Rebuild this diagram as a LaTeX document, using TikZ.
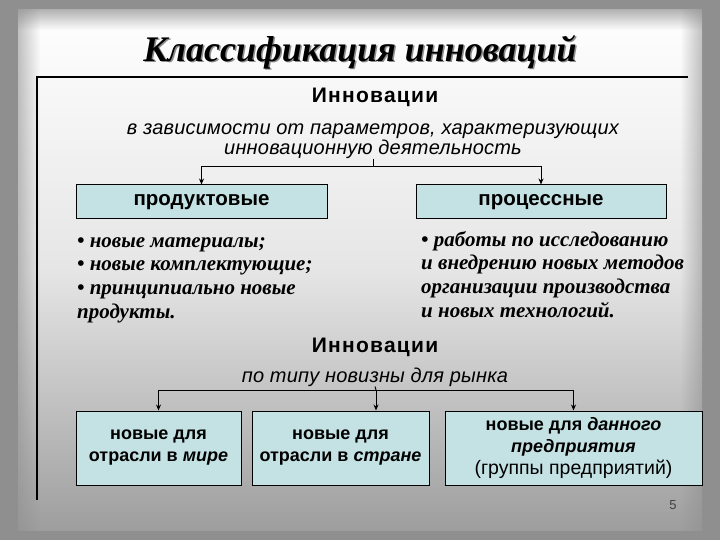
\documentclass[tikz,border=0pt]{standalone}
\usepackage{fontspec}
\setmainfont{Liberation Serif}
\setsansfont{Liberation Sans}
\usetikzlibrary{arrows.meta,fadings}
\definecolor{boxfill}{RGB}{196,226,228}
\tikzset{
  catbox/.style={draw=black, line width=1pt, fill=boxfill, inner sep=0pt, font=\sffamily\bfseries\fontsize{18}{22}\selectfont, align=center},
  conn/.style={line width=1pt, draw=black},
  arr/.style={line width=1pt, -{Stealth[length=6pt,width=5pt]}},
  headtxt/.style={font=\sffamily\bfseries\fontsize{21}{22}\selectfont\addfontfeature{LetterSpace=6}},
  crittxt/.style={font=\sffamily\itshape\fontsize{20}{20}\selectfont\addfontfeature{LetterSpace=1}, align=center, inner sep=0pt},
  listtxt/.style={font=\rmfamily\bfseries\itshape\fontsize{21}{23.7}\selectfont, align=left, inner sep=0pt, anchor=north west}
}
\begin{document}
\begin{tikzpicture}[x=1pt,y=1pt]
\useasboundingbox (0,0) rectangle (720,-540);
% background
\fill[color=black!44] (0,0) rectangle (720,-540);
\shade[top color=white, bottom color=black!38, middle color=black!10] (18,-10) rectangle (702,-530);
\fill[black!44, path fading=east] (0,0) rectangle (40,-540);
\fill[black!44, path fading=west] (680,0) rectangle (720,-540);
\fill[black!44, path fading=south] (0,0) rectangle (720,-30);
% title
\node[font=\rmfamily\bfseries\itshape\fontsize{36}{40}\selectfont, text=black!45] at (361.5,-53.5) {Классификация инноваций};
\node[font=\rmfamily\bfseries\itshape\fontsize{36}{40}\selectfont] (title) at (360,-52) {Классификация инноваций};
% frame
\coordinate (fTL) at (37,-77);
\coordinate (fTR) at (688,-77);
\coordinate (fBL) at (37,-500);
\draw[line width=1.2pt] (fTR) -- (fTL) -- (fBL);
% first classification
\node[headtxt] (inn1) at (375,-97) {Инновации};
\node[crittxt] (crit1) at (373,-141) {в зависимости от параметров, характеризующих\\инновационную деятельность};
\node[catbox, minimum width=251pt, minimum height=34pt, font=\sffamily\bfseries\fontsize{20.5}{22}\selectfont] (prod) at (201.5,-202) {продуктовые};
\node[catbox, minimum width=250pt, minimum height=34pt, font=\sffamily\bfseries\fontsize{20.5}{22}\selectfont] (proc) at (541,-202) {процессные};
\coordinate (j1) at (373,-167);
\draw[conn] (crit1.south) -- (j1);
\draw[arr] (j1) -| (prod.north);
\draw[arr] (j1) -| (proc.north);
% lists
\node[listtxt] (listL) at (77,-237) {• новые материалы;\\• новые комплектующие;\\• принципиально новые\\продукты.};
\node[listtxt] (listR) at (421,-231) {• работы по исследованию\\и внедрению новых методов\\организации производства\\и новых технологий.};
% second classification
\node[headtxt] (inn2) at (375,-347) {Инновации};
\node[crittxt] (crit2) at (375,-377) {по типу новизны для рынка};
\node[catbox, minimum width=165pt, minimum height=74pt] (world) at (158.5,-448) {новые для\\отрасли в \textit{мире}};
\node[catbox, minimum width=177pt, minimum height=74pt] (country) at (340.5,-448) {новые для\\отрасли в \textit{стране}};
\node[catbox, minimum width=257pt, minimum height=74pt] (firm) at (573.5,-448) {новые для \textit{данного}\\\textit{предприятия}\\{\mdseries\fontsize{19.5}{22}\selectfont(группы предприятий)}};
\coordinate (j2) at (376,-390);
\draw[conn] (crit2.south) -- (j2);
\draw[arr] (j2) -| (world.north);
\draw[arr] (j2) -- (j2 |- country.north);
\draw[arr] (j2) -| (firm.north);
% page number
\node[font=\sffamily\fontsize{13}{15}\selectfont, text=black!75] (pg) at (673,-505) {5};
\end{tikzpicture}
\end{document}
